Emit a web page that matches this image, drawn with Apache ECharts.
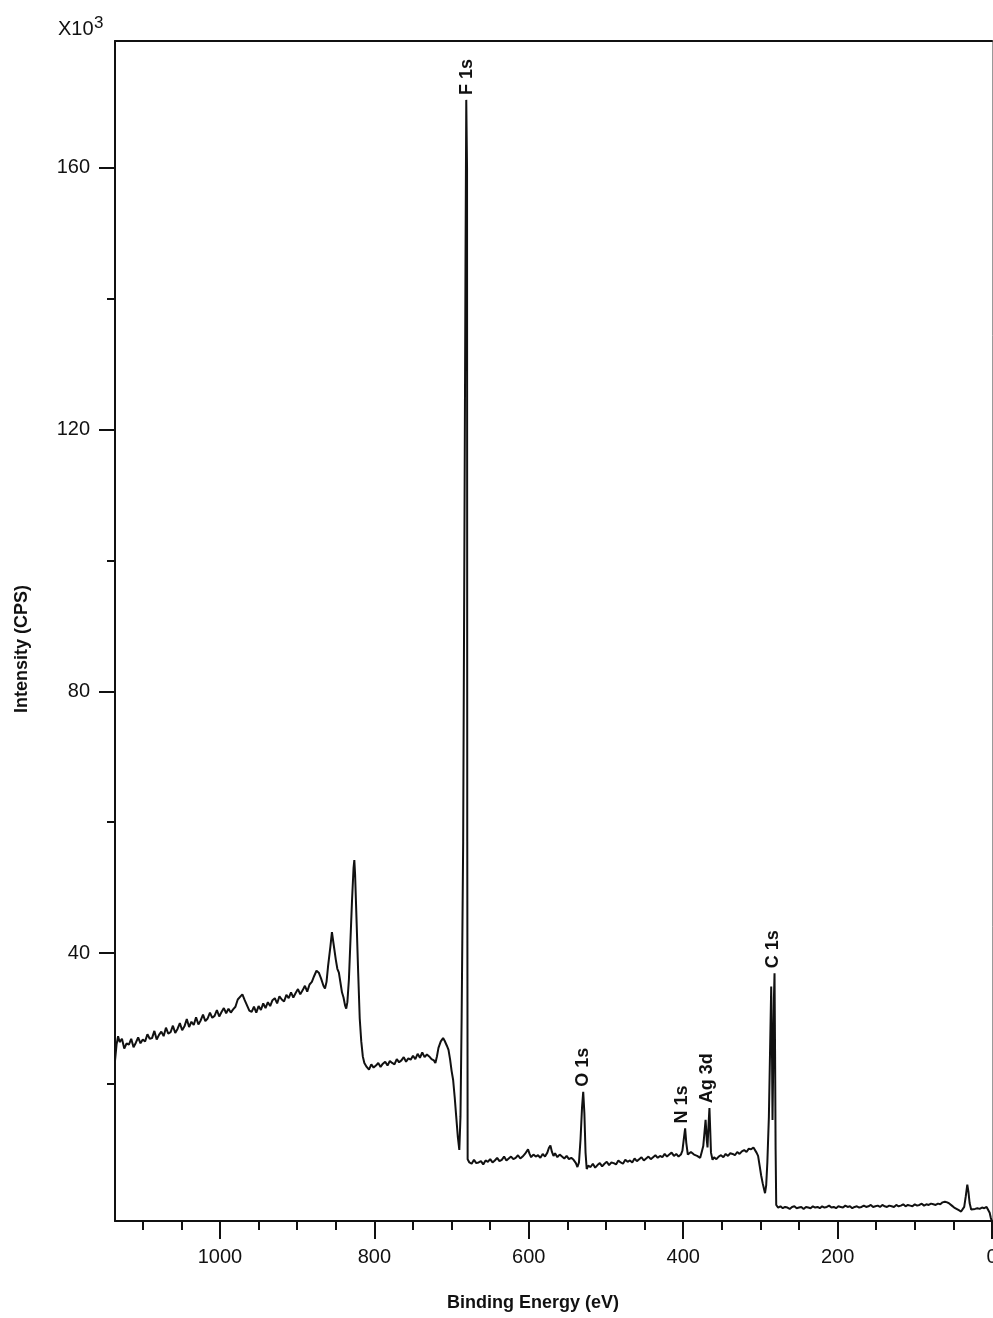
<!DOCTYPE html>
<html>
<head>
<meta charset="utf-8">
<script src="https://cdn.jsdelivr.net/npm/echarts@6/dist/echarts.min.js"></script>
<style>
  html, body { margin: 0; padding: 0; background: #fff; }
  #main { width: 993px; height: 1318px; }
</style>
</head>
<body>
<div id="main"></div>
<script>
'use strict'

const energy = [
  1136, 1134, 1132, 1130, 1127, 1124, 1121, 1118, 1115, 1112, 1109, 1106, 1103, 1100,
  1097, 1094, 1091, 1088, 1085, 1082, 1079, 1076, 1073, 1070, 1067, 1064, 1061, 1058,
  1055, 1052, 1049, 1046, 1043, 1040, 1037, 1034, 1031, 1028, 1025, 1022, 1019, 1016,
  1013, 1010, 1007, 1004, 1001, 998, 995, 992, 989, 986, 983, 980, 977, 974, 971, 968,
  965, 962, 959, 956, 953, 950, 947, 944, 941, 938, 935, 932, 929, 926, 923, 920, 917,
  914, 911, 908, 905, 902, 899, 896, 893, 890, 887, 884, 881, 878, 875, 872, 869, 866,
  864, 862, 860, 857, 855, 853, 850, 848, 846, 844, 842, 840, 838, 836.5, 835, 833, 831,
  829, 827, 826, 825, 823, 821, 819, 817, 815, 813, 810, 807, 804, 801, 798, 795, 792,
  789, 786, 783, 780, 777, 774, 771, 768, 765, 762, 759, 756, 753, 750, 747, 744, 741,
  738, 735, 732, 729, 726, 723, 721, 719, 717, 714, 711, 709, 706, 704, 702, 700, 698,
  696, 694, 692, 690, 688.5, 687, 685, 683.5, 682, 681, 680, 679.7, 679.2,
  677, 674, 671, 668, 665, 662, 659, 656, 653, 650, 647, 644, 641, 638, 635, 632, 629,
  626, 623, 620, 617, 614, 611, 608, 605, 603, 601, 599, 597, 594, 591, 588, 585, 582,
  579, 576, 574, 572, 570, 568, 566, 563, 560, 557, 554, 551, 548, 545, 542, 539, 537,
  535, 533, 531, 529.5, 528, 526.5, 525, 523, 520, 517, 514, 511, 508, 505, 502, 499,
  496, 493, 490, 487, 484, 481, 478, 475, 472, 469, 466, 463, 460, 457, 454, 451, 448,
  445, 442, 439, 436, 433, 430, 427, 424, 421, 418, 415, 412, 409, 406, 403, 401, 399,
  397.5, 396, 394, 392, 390, 388, 386, 384, 382, 380, 378, 376, 374, 372.5, 371, 369.5,
  368.5, 367.5, 366, 365, 364, 362, 360, 357, 354, 351, 348, 345, 342, 339, 336, 333,
  330, 327, 324, 321, 318, 315, 312, 309, 307, 305, 303, 301, 299, 297, 295, 294, 292.5,
  291, 289, 287.5, 286, 285, 284.3, 283.5, 282.5, 281.7, 281, 280.3, 279.5,
  277, 274, 271, 268, 265, 262, 259, 256, 253, 250, 247, 244, 241, 238, 235, 232, 229,
  226, 223, 220, 217, 214, 211, 208, 205, 202, 199, 196, 193, 190, 187, 184, 181, 178,
  175, 172, 169, 166, 163, 160, 157, 154, 151, 148, 145, 142, 139, 136, 133, 130, 127,
  124, 121, 118, 115, 112, 109, 106, 103, 100, 97, 94, 91, 88, 85, 82, 79, 76, 73, 70,
  67, 64, 61, 58, 55, 52, 49, 46, 43, 40, 38, 36, 34, 32, 30.5, 29, 27, 25, 22, 19, 16,
  13, 10, 7, 5, 3, 1.5, 0
];

// intensity in units of 10^3 CPS, same rows as energy
const intensity = [
  23.5, 26.0, 27.3, 26.4, 26.9, 25.4, 26.2, 26.0, 26.9, 25.6, 26.3, 27.1, 26.2, 26.8,
  26.5, 27.6, 26.9, 27.0, 28.1, 26.8, 27.5, 28.0, 27.3, 28.6, 27.7, 27.9, 28.9, 27.8,
  28.4, 29.3, 28.2, 28.8, 29.9, 28.7, 29.5, 29.0, 30.2, 29.1, 29.7, 30.6, 29.6, 30.0,
  30.9, 30.1, 30.4, 31.3, 30.3, 31.0, 31.6, 30.8, 31.5, 30.9, 31.4, 31.8, 32.9, 33.3, 33.7, 32.8,
  32.0, 31.2, 31.0, 31.8, 30.9, 31.9, 31.3, 32.3, 31.6, 32.5, 31.9, 32.8, 33.1, 32.3, 33.4, 32.9, 32.6,
  33.6, 33.1, 34.0, 33.2, 33.9, 34.5, 33.7, 34.3, 35.0, 34.1, 35.2, 35.6, 36.5, 37.3, 37.0, 36.1, 35.0,
  34.6, 35.6, 38.0, 41.0, 43.2, 41.5, 39.0, 37.6, 37.0, 35.5, 34.0, 33.2, 32.0, 31.5, 32.5, 36.0, 42.0,
  48.0, 53.0, 54.2, 52.0, 44.6, 37.0, 30.0, 26.5, 24.2, 23.2, 22.6, 22.2, 23.0, 22.5, 22.8, 23.2, 22.6,
  23.1, 23.4, 22.8, 23.5, 23.2, 23.0, 23.8, 23.3, 23.6, 24.1, 23.4, 23.9, 23.7, 24.3, 23.8, 24.6, 24.0,
  24.8, 24.1, 24.5, 24.2, 23.8, 23.6, 23.2, 24.2, 25.5, 26.5, 27.0, 26.6, 25.8, 25.2, 23.8, 22.0, 20.6,
  18.0, 15.0, 12.0, 9.9, 15.0, 30.0, 57.0, 100.0, 145.0, 170.4, 160.0, 57.0, 8.5,
  8.0, 7.8, 8.4, 7.9, 8.0, 8.2, 7.7, 8.3, 8.1, 8.5, 8.0, 8.3, 8.7, 8.2, 8.4, 8.9, 8.3,
  8.6, 8.9, 8.5, 8.7, 9.1, 8.6, 8.9, 9.3, 9.6, 10.0, 9.3, 8.8, 9.2, 8.9, 9.1, 8.7, 9.3,
  8.9, 9.5, 10.2, 10.6, 9.6, 9.0, 9.4, 8.8, 9.2, 8.9, 8.6, 9.0, 8.5, 8.7, 8.4, 7.9, 7.3,
  8.0, 11.5, 16.5, 18.8, 15.5, 9.5, 7.0, 7.5, 7.3, 7.8, 7.2, 7.6, 7.9, 7.4, 7.8, 8.1,
  7.6, 8.0, 7.9, 7.7, 8.3, 8.0, 7.8, 8.4, 8.1, 8.3, 8.0, 8.6, 8.2, 8.5, 8.8, 8.3, 8.6,
  8.9, 8.5, 8.8, 9.1, 8.7, 9.0, 8.8, 9.3, 8.9, 9.2, 9.5, 9.0, 9.3, 8.9, 9.2, 9.8, 11.8,
  13.2, 11.0, 9.2, 9.0, 9.6, 9.9, 9.2, 9.4, 9.0, 8.7, 8.7, 9.6, 10.5, 12.5, 14.5, 11.5,
  10.3, 13.0, 16.3, 13.0, 9.5, 8.4, 8.8, 8.5, 8.9, 9.1, 8.8, 9.3, 9.0, 9.4, 9.3, 9.1,
  9.6, 9.3, 9.7, 9.9, 9.6, 10.1, 10.0, 10.3, 10.0, 9.5, 9.0, 7.5, 6.0, 4.8, 3.8, 3.3, 4.5,
  8.0, 15.0, 25.0, 34.9, 25.0, 14.5, 22.0, 33.0, 36.9, 25.0, 10.0, 1.5,
  1.1, 1.3, 1.0, 1.2, 1.1, 0.9, 1.2, 1.3, 1.0, 1.1, 1.2, 0.9, 1.2, 1.1, 1.0, 1.3, 1.1,
  1.2, 1.0, 1.3, 1.1, 1.2, 1.4, 1.1, 1.2, 1.0, 1.3, 1.2, 1.1, 1.4, 1.2, 1.3, 1.0, 1.2,
  1.3, 1.1, 1.2, 1.4, 1.2, 1.3, 1.5, 1.2, 1.3, 1.4, 1.2, 1.5, 1.3, 1.2, 1.4, 1.3, 1.2,
  1.5, 1.3, 1.4, 1.6, 1.3, 1.5, 1.4, 1.3, 1.6, 1.4, 1.5, 1.7, 1.4, 1.6, 1.5, 1.7, 1.6, 1.5, 1.7,
  1.6, 1.9, 2.0, 1.9, 1.7, 1.4, 1.1, 0.9, 0.7, 0.5, 0.6, 1.2, 2.8, 4.6, 3.5, 1.8, 0.8, 0.6, 0.9, 1.0, 0.9,
  1.1, 1.0, 1.2, 1.0, 0.3, -0.5, -1.0
];

// peak annotations
const peakNames = ['F 1s', 'O 1s', 'N 1s', 'Ag 3d', 'C 1s'];
const peakEnergy = [680.5, 529.5, 401, 369, 283];
const peakTop = [170.4, 18.8, 13.2, 16.3, 36.9];

// axis ticks
const xMajorTicks = [0, 200, 400, 600, 800, 1000];
const xMinorTicks = [50, 100, 150, 250, 300, 350, 450, 500, 550, 650, 700, 750, 850, 900, 950, 1050, 1100];
const yMajorTicks = [40, 80, 120, 160];
const yMinorTicks = [20, 60, 100, 140];

const FONT = '"Liberation Sans", Arial, Helvetica, sans-serif';
const INK = '#111';

var myChart = echarts.init(document.getElementById('main'), null, { renderer: 'canvas' });

const spectrum = energy.map((e, i) => [e, intensity[i]]);

const xRange = { min: 0, max: 1136, inverse: true, type: 'value' };
const yRange = { min: -0.95, max: 179.4, type: 'value' };

var option = {
    animation: false,
    backgroundColor: '#fff',
    grid: { left: 115, right: 1, top: 41, bottom: 97, outerBoundsMode: 'none', containLabel: false },
    xAxis: [
        Object.assign({}, xRange, {
            position: 'bottom',
            axisLine: { show: true, onZero: false, lineStyle: { color: INK, width: 2 } },
            axisTick: { show: true, customValues: xMajorTicks, length: 18, lineStyle: { color: INK, width: 2 } },
            axisLabel: {
                show: true, customValues: xMajorTicks, margin: 26, fontSize: 20, color: INK, fontFamily: FONT,
                formatter: v => String(v)
            },
            splitLine: { show: false }
        }),
        Object.assign({}, xRange, {
            position: 'bottom',
            axisLine: { show: false, onZero: false },
            axisTick: { show: true, customValues: xMinorTicks, length: 9, lineStyle: { color: INK, width: 2 } },
            axisLabel: { show: false },
            splitLine: { show: false }
        }),
        Object.assign({}, xRange, {
            position: 'top',
            axisLine: { show: true, onZero: false, lineStyle: { color: INK, width: 2 } },
            axisTick: { show: false },
            axisLabel: { show: false },
            splitLine: { show: false }
        })
    ],
    yAxis: [
        Object.assign({}, yRange, {
            position: 'left',
            axisLine: { show: true, onZero: false, lineStyle: { color: INK, width: 2 } },
            axisTick: { show: true, customValues: yMajorTicks, length: 16, lineStyle: { color: INK, width: 2 } },
            axisLabel: { show: true, customValues: yMajorTicks, margin: 25, fontSize: 20, color: INK, fontFamily: FONT },
            splitLine: { show: false }
        }),
        Object.assign({}, yRange, {
            position: 'left',
            axisLine: { show: false, onZero: false },
            axisTick: { show: true, customValues: yMinorTicks, length: 8, lineStyle: { color: INK, width: 2 } },
            axisLabel: { show: false },
            splitLine: { show: false }
        }),
        Object.assign({}, yRange, {
            position: 'right',
            axisLine: { show: true, onZero: false, lineStyle: { color: '#999', width: 1 } },
            axisTick: { show: false },
            axisLabel: { show: false },
            splitLine: { show: false }
        })
    ],
    series: [{
        type: 'line',
        xAxisIndex: 0,
        yAxisIndex: 0,
        data: spectrum,
        showSymbol: false,
        symbol: 'none',
        lineStyle: { color: INK, width: 2 },
        z: 3
    }]
};

myChart.setOption(option);

// texts placed in pixels: axis titles, the x10^3 multiplier and the peak names
let texts = [
    {
        type: 'text', x: 58, y: 29,
        style: { text: 'X10', font: '20px ' + FONT, fill: INK, textAlign: 'left', textVerticalAlign: 'middle' }
    },
    {
        type: 'text', x: 94, y: 23,
        style: { text: '3', font: '17px ' + FONT, fill: INK, textAlign: 'left', textVerticalAlign: 'middle' }
    },
    {
        type: 'text', x: 533, y: 1303,
        style: { text: 'Binding Energy (eV)', font: 'bold 18px ' + FONT, fill: INK, textAlign: 'center', textVerticalAlign: 'middle' }
    },
    {
        type: 'text', x: 22, y: 649, rotation: Math.PI / 2,
        style: { text: 'Intensity (CPS)', font: 'bold 18px ' + FONT, fill: INK, textAlign: 'center', textVerticalAlign: 'middle' }
    }
];

for (let i = 0; i < peakNames.length; i++) {
    let p = myChart.convertToPixel({ xAxisIndex: 0, yAxisIndex: 0 }, [peakEnergy[i], peakTop[i]]);
    texts.push({
        type: 'text', x: p[0], y: p[1] - 5, rotation: Math.PI / 2,
        style: { text: peakNames[i], font: 'bold 18px ' + FONT, fill: INK, textAlign: 'left', textVerticalAlign: 'middle' }
    });
}

myChart.setOption({ graphic: texts });
</script>
</body>
</html>
